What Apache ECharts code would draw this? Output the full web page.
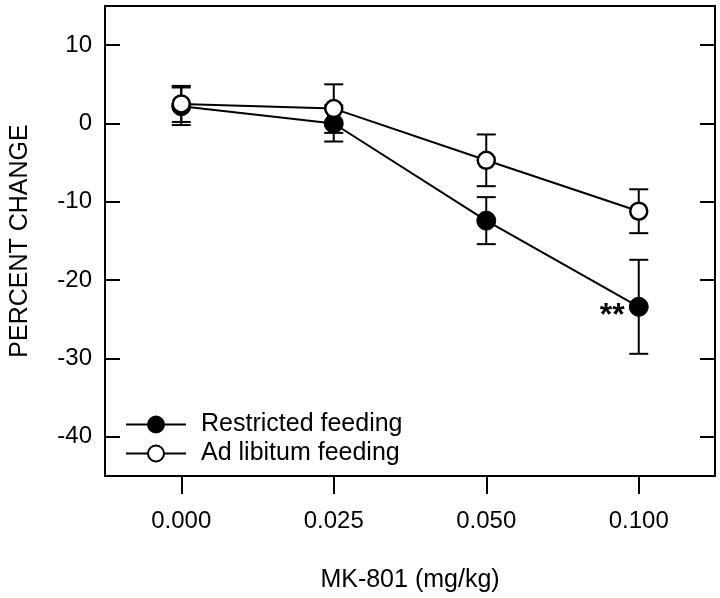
<!DOCTYPE html>
<html>
<head>
<meta charset="utf-8">
<script src="https://cdn.jsdelivr.net/npm/echarts@6/dist/echarts.min.js"></script>
<style>
html,body{margin:0;padding:0;background:#fff;}
#chart{width:720px;height:598px;}
</style>
</head>
<body>
<div id="chart"></div>
<script>
// ---- data ----
const categories = ['0.000', '0.025', '0.050', '0.100'];
const restrictedMean = [2.2, 0.0, -12.4, -23.4];
const restrictedErr = [2.4, 2.3, 3.0, 6.0];
const adlibMean = [2.5, 1.9, -4.7, -11.2];
const adlibErr = [2.3, 3.1, 3.3, 2.8];
const yTicks = [-40, -30, -20, -10, 0, 10];
const seriesNames = ['Restricted feeding', 'Ad libitum feeding'];
const annotations = ['', '', '', '**']; // significance marks on restricted series

const FONT = 'Liberation Sans, Arial, Helvetica, sans-serif';

function errData(mean, err) {
  return mean.map((m, i) => [i, m - err[i], m + err[i]]);
}

function renderErr(params, api) {
  const x = api.value(0);
  const pLo = api.coord([x, api.value(1)]);
  const pHi = api.coord([x, api.value(2)]);
  const hw = 9.5;
  const st = { stroke: '#000', lineWidth: 2 };
  return {
    type: 'group',
    children: [
      { type: 'line', shape: { x1: pLo[0], y1: pLo[1], x2: pHi[0], y2: pHi[1] }, style: st },
      { type: 'line', shape: { x1: pLo[0] - hw, y1: pLo[1], x2: pLo[0] + hw, y2: pLo[1] }, style: st },
      { type: 'line', shape: { x1: pHi[0] - hw, y1: pHi[1], x2: pHi[0] + hw, y2: pHi[1] }, style: st }
    ]
  };
}

const restrictedData = restrictedMean.map((v, i) => {
  if (!annotations[i]) return v;
  return {
    value: v,
    label: {
      show: true, position: 'left', distance: 4, formatter: annotations[i],
      fontSize: 32, fontWeight: 'bold', color: '#000', fontFamily: FONT, offset: [0, 9]
    }
  };
});

const chart = echarts.init(document.getElementById('chart'), null, { renderer: 'canvas' });
const axisLine = { show: true, onZero: false, lineStyle: { color: '#000', width: 2 } };

chart.setOption({
  animation: false,
  backgroundColor: '#fff',
  grid: { left: 105, right: 5, top: 6, bottom: 121, containLabel: false },
  legend: {
    orient: 'vertical', left: 125, top: 412, padding: 0, itemWidth: 60, itemHeight: 20, itemGap: 4,
    align: 'left',
    data: seriesNames,
    textStyle: { fontFamily: FONT, fontSize: 25, color: '#000', padding: [0, 0, 0, 10] }
  },
  xAxis: [
    {
      type: 'category', data: categories, boundaryGap: true, position: 'bottom',
      axisLine: axisLine,
      axisTick: { show: true, inside: false, length: 18, alignWithLabel: true, lineStyle: { color: '#000', width: 2 } },
      axisLabel: { fontFamily: FONT, fontSize: 24, color: '#000', margin: 33 },
      splitLine: { show: false },
      name: 'MK-801 (mg/kg)', nameLocation: 'middle', nameGap: 92,
      nameTextStyle: { fontFamily: FONT, fontSize: 25, color: '#000' }
    },
    {
      type: 'category', data: categories, boundaryGap: true, position: 'top',
      axisLine: axisLine, axisTick: { show: false }, axisLabel: { show: false }, splitLine: { show: false }
    }
  ],
  yAxis: [
    {
      type: 'value', min: -45, max: 15, position: 'left',
      axisLine: axisLine,
      axisTick: { show: true, inside: true, length: 15, customValues: yTicks, lineStyle: { color: '#000', width: 2 } },
      axisLabel: { fontFamily: FONT, fontSize: 24, color: '#000', margin: 13, customValues: yTicks },
      splitLine: { show: false },
      name: 'PERCENT CHANGE', nameLocation: 'middle', nameGap: 72,
      nameTextStyle: { fontFamily: FONT, fontSize: 25, color: '#000' }
    },
    {
      type: 'value', min: -45, max: 15, position: 'right',
      axisLine: axisLine,
      axisTick: { show: true, inside: true, length: 15, customValues: yTicks, lineStyle: { color: '#000', width: 2 } },
      axisLabel: { show: false },
      splitLine: { show: false }
    }
  ],
  series: [
    {
      type: 'custom', name: 'errR', renderItem: renderErr, data: errData(restrictedMean, restrictedErr),
      z: 1, silent: true, legendHoverLink: false
    },
    {
      type: 'custom', name: 'errA', renderItem: renderErr, data: errData(adlibMean, adlibErr),
      z: 1, silent: true, legendHoverLink: false
    },
    {
      type: 'line', name: seriesNames[0], data: restrictedData, z: 3,
      symbol: 'circle', symbolSize: 19, showAllSymbol: true,
      lineStyle: { color: '#000', width: 2 },
      itemStyle: { color: '#000', borderColor: '#000', borderWidth: 1 }
    },
    {
      type: 'line', name: seriesNames[1], data: adlibMean, z: 4,
      symbol: 'circle', symbolSize: 17, showAllSymbol: true,
      lineStyle: { color: '#000', width: 2 },
      itemStyle: { color: '#fff', borderColor: '#000', borderWidth: 2.5 }
    }
  ]
});
</script>
</body>
</html>
